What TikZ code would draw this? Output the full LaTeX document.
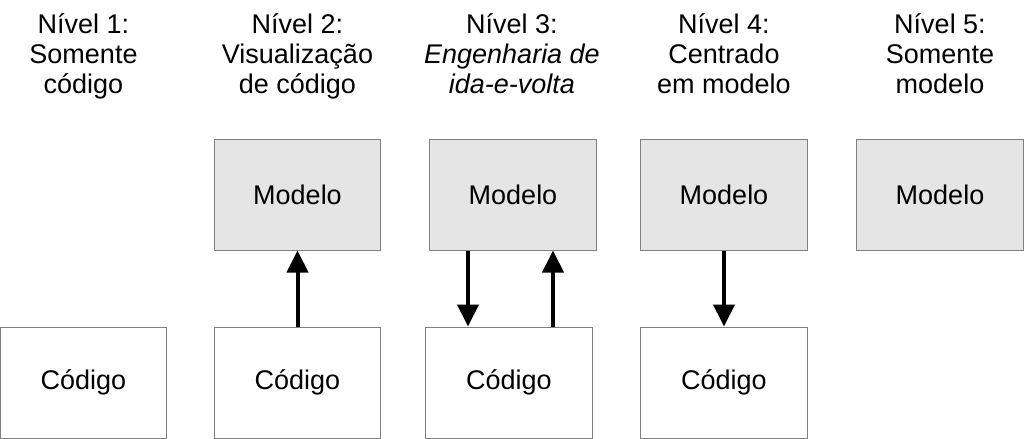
\documentclass[tikz,border=0pt]{standalone}
\usepackage{fontspec}
\setmainfont{Liberation Sans}
\usetikzlibrary{arrows.meta}

\tikzset{
  codbox/.style={draw=black!50, line width=0.5pt, minimum width=83.25pt, minimum height=55.5pt, inner sep=0pt},
  modbox/.style={codbox, fill=black!10},
  lvl/.style={align=center, anchor=base, inner sep=0pt},
  arr/.style={line width=2pt, -{Triangle[width=10.5pt, length=11pt]}}
}

\begin{document}
\begin{tikzpicture}[x=0.5pt, y=-0.5pt, font=\fontsize{13.5pt}{15pt}\selectfont]
        \useasboundingbox (0,0) rectangle (1024,439);
        % titles
        \node[lvl] (t1) at (83.5,93) {Nível 1:\\Somente\\código};
        \node[lvl] (t2) at (297.5,93) {Nível 2:\\Visualização\\de código};
        \node[lvl] (t3) at (512,93) {Nível 3:\\\textit{Engenharia de}\\\textit{ida-e-volta}};
        \node[lvl] (t4) at (724,93) {Nível 4:\\Centrado\\em modelo};
        \node[lvl] (t5) at (940,93) {Nível 5:\\Somente\\modelo};
        % boxes
        \node[codbox] (c1) at (83.5,382.5) {Código};
        \node[modbox] (m2) at (297.5,194.5) {Modelo};
        \node[codbox] (c2) at (297.5,382.5) {Código};
        \node[modbox] (m3) at (513,194.5) {Modelo};
        \node[codbox] (c3) at (509,382.5) {Código};
        \node[modbox] (m4) at (724,194.5) {Modelo};
        \node[codbox] (c4) at (724,382.5) {Código};
        \node[modbox] (m5) at (940,194.5) {Modelo};
        % arrows
        \draw[arr] (c2.north) -- (m2.south);
        \draw[arr] ([xshift=-22.5pt]m3.south) -- ([xshift=-22.5pt]m3.south |- c3.north);
        \draw[arr] ([xshift=20pt]m3.south |- c3.north) -- ([xshift=20pt]m3.south);
        \draw[arr] (m4.south) -- (c4.north);
\end{tikzpicture}
\end{document}
